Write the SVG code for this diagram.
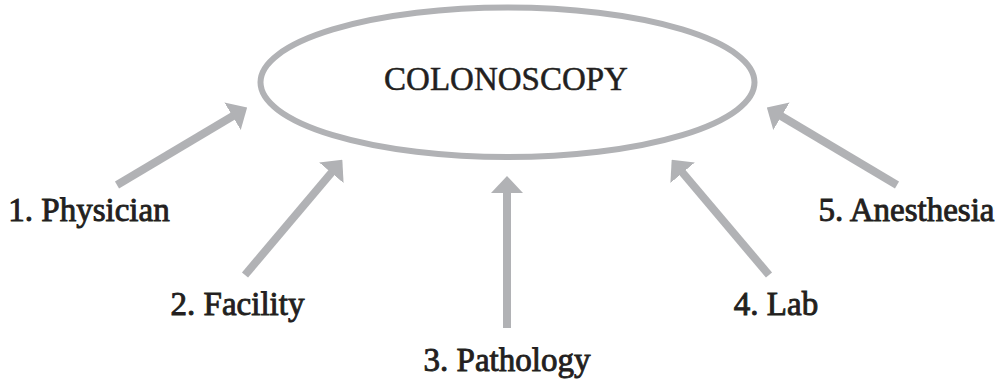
<svg xmlns="http://www.w3.org/2000/svg" width="1001" height="381" viewBox="0 0 1001 381">
<style>
.lbl{font-family:"Liberation Serif","Times New Roman",serif;font-size:33px;fill:#231f20;stroke:#231f20;stroke-width:0.9;text-anchor:middle}
.title{stroke-width:0.5}
.arr{stroke:#b1b2b5;stroke-width:8;fill:none;marker-end:url(#head)}
</style>
<defs>
<marker id="head" markerUnits="userSpaceOnUse" viewBox="0 0 17 32" markerWidth="17" markerHeight="32" refX="1" refY="16" orient="auto">
<path d="M0,0 L17,16 L0,32 z" fill="#b1b2b5"/>
</marker>
</defs>
<rect width="1001" height="381" fill="#ffffff"/>
<g id="colonoscopy">
<ellipse cx="507.5" cy="82.3" rx="247" ry="74.7" fill="none" stroke="#b1b2b5" stroke-width="6"/>
<text class="lbl title" x="506" y="90">COLONOSCOPY</text>
</g>
<g id="physician"><text class="lbl" x="89" y="221">1. Physician</text></g>
<g id="facility"><text class="lbl" x="237.5" y="315">2. Facility</text></g>
<g id="pathology"><text class="lbl" x="507" y="371">3. Pathology</text></g>
<g id="lab"><text class="lbl" x="776" y="315">4. Lab</text></g>
<g id="anesthesia"><text class="lbl" x="906.5" y="221">5. Anesthesia</text></g>
<g id="connectors">
<line class="arr" x1="117" y1="185" x2="233.4" y2="115.7"/>
<line class="arr" x1="245" y1="275" x2="332" y2="172"/>
<line class="arr" x1="507" y1="328" x2="507" y2="192"/>
<line class="arr" x1="769" y1="275" x2="682" y2="172"/>
<line class="arr" x1="897" y1="185" x2="780.6" y2="115.7"/>
</g>
</svg>
